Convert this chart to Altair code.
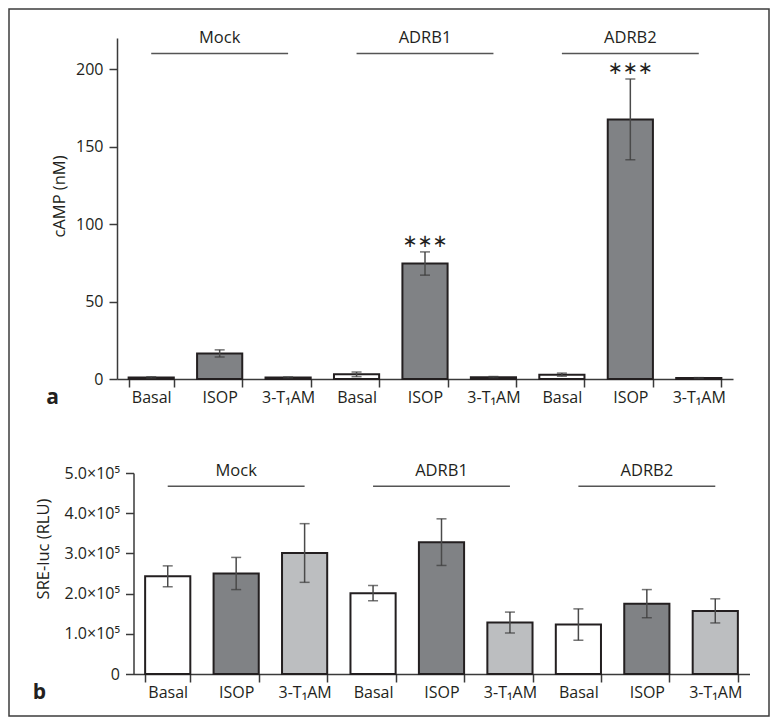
import altair as alt
import pandas as pd

# ---------------- data ----------------
groups = ["Mock", "ADRB1", "ADRB2"]
treatments = ["Basal", "ISOP", "3-T₁AM"]
fill_colors = ["#ffffff", "#808285", "#bcbec0"]

camp_mean = [1.0, 16.5, 1.0, 3.0, 74.5, 1.2, 2.8, 167.5, 0.6]
camp_err = [0.4, 2.3, 0.3, 1.5, 7.5, 0.4, 1.0, 26.0, 0.3]
camp_sig = ["", "", "", "", "∗∗∗", "", "", "∗∗∗", ""]
camp_ticks = [0, 50, 100, 150, 200]
camp_max = 220
camp_bracket_line = 210
camp_bracket_label = 220

sre_mean = [2.43e5, 2.50e5, 3.01e5, 2.01e5, 3.28e5, 1.28e5, 1.23e5, 1.75e5, 1.57e5]
sre_err = [0.26e5, 0.40e5, 0.73e5, 0.19e5, 0.58e5, 0.26e5, 0.39e5, 0.35e5, 0.30e5]
sre_sig = ["", "", "", "", "", "", "", "", ""]
sre_ticks = [0, 100000, 200000, 300000, 400000, 500000]
sre_max = 500000
sre_bracket_line = 467000
sre_bracket_label = 504000

keys = [f"{g}|{t}" for g in groups for t in treatments]

FONT = "Open Sans"
INK = "#231f20"
AXIS = "#3a3a3a"


def bars_df(mean, err, sig):
    return pd.DataFrame({
        "key": keys,
        "treatment": [t for g in groups for t in treatments],
        "mean": mean,
        "lo": [m - e for m, e in zip(mean, err)],
        "hi": [m + e for m, e in zip(mean, err)],
        "sig": sig,
    })


def bracket_df(line_y, label_y):
    return pd.DataFrame({
        "group": groups,
        "start": [f"{g}|{treatments[0]}" for g in groups],
        "mid": [f"{g}|{treatments[1]}" for g in groups],
        "end": [f"{g}|{treatments[2]}" for g in groups],
        "line_y": [line_y] * 3,
        "label_y": [label_y] * 3,
    })


def panel(mean, err, sig, ymax, yticks, ylabel_expr, ytitle, letter,
          line_y, label_y, width, height, xrange, yoffset,
          ytitle_x, ytitle_y, letter_x, extra=None):
    df = bars_df(mean, err, sig)
    br = bracket_df(line_y, label_y)
    xscale = alt.Scale(domain=keys, range=xrange, paddingInner=0.34, paddingOuter=0.17)
    xaxis = alt.Axis(title=letter, labelExpr="split(datum.value, '|')[1]",
                     tickBand="extent", labelAngle=0, labelPadding=2,
                     titleX=letter_x, titleY=18, titleFontSize=21,
                     titleFontWeight="bold", titleAlign="center",
                     titleBaseline="middle")
    yscale = alt.Scale(domain=[0, ymax], nice=False, zero=True)
    yaxis = alt.Axis(title=ytitle, values=yticks, labelExpr=ylabel_expr,
                     offset=yoffset, titleX=ytitle_x, titleY=ytitle_y,
                     titleAlign="center", titleBaseline="middle", grid=False,
                     labelPadding=6)
    x = alt.X("key:N", scale=xscale, axis=xaxis)
    base = alt.Chart(df)
    bars = base.mark_bar(stroke=INK, strokeWidth=2).encode(
        x=x,
        y=alt.Y("mean:Q", scale=yscale, axis=yaxis),
        fill=alt.Fill("treatment:N",
                      scale=alt.Scale(domain=treatments, range=fill_colors),
                      legend=None),
    )
    stems = base.mark_rule(color="#4a4a4a", strokeWidth=1.5).encode(
        x=x, y=alt.Y("lo:Q", scale=yscale, axis=yaxis), y2="hi:Q")
    caps_hi = base.mark_tick(color=AXIS, size=10, thickness=1.5).encode(
        x=x, y=alt.Y("hi:Q", scale=yscale, axis=yaxis))
    caps_lo = base.mark_tick(color=AXIS, size=10, thickness=1.5).encode(
        x=x, y=alt.Y("lo:Q", scale=yscale, axis=yaxis))
    stars = base.mark_text(font="DejaVu Sans", fontSize=18, dy=-10,
                           baseline="middle", color=INK).encode(
        x=x, y=alt.Y("hi:Q", scale=yscale, axis=yaxis), text="sig:N")
    lines = alt.Chart(br).mark_rule(color="#555555", strokeWidth=1.5).encode(
        x=alt.X("start:N", scale=xscale, axis=xaxis, bandPosition=0.5),
        x2=alt.X2("end:N", bandPosition=0.5),
        y=alt.Y("line_y:Q", scale=yscale, axis=yaxis),
    )
    labels = alt.Chart(br).mark_text(fontSize=16.5, baseline="middle",
                                     color=INK, font=FONT).encode(
        x=alt.X("mid:N", scale=xscale, axis=xaxis),
        y=alt.Y("label_y:Q", scale=yscale, axis=yaxis),
        text="group:N",
    )
    layers = [bars, stems, caps_hi, caps_lo, stars, lines, labels]
    if extra is not None:
        layers.append(extra)
    return alt.layer(*layers).properties(width=width, height=height)


# figure frame (decoration around the whole figure)
frame = alt.Chart(pd.DataFrame({"f": [0]})).mark_rect(
    fill="#ffffff", fillOpacity=0, stroke="#3c3c3c", strokeWidth=1.5
).encode(x=alt.value(-108), x2=alt.value(652), y=alt.value(-29), y2=alt.value(678))

top = panel(camp_mean, camp_err, camp_sig, camp_max, camp_ticks,
            "datum.value", "cAMP (nM)", "a",
            camp_bracket_line, camp_bracket_label,
            616, 341, [0, 616], 0, -58, 158, -65, extra=frame)

bottom = panel(sre_mean, sre_err, sre_sig, sre_max, sre_ticks,
               "datum.value == 0 ? '0' : format(datum.value / 100000, '.1f') + '×10⁵'",
               "SRE-luc (RLU)", "b",
               sre_bracket_line, sre_bracket_label,
               633, 201, [16.5, 632.5], -16.5, -90.5, 75.5, -78)

chart = alt.vconcat(top, bottom, spacing=94, bounds="flush").properties(
    padding=0
).configure_axis(
    domainColor=AXIS, domainWidth=1.5, tickColor=AXIS, tickWidth=1.5,
    tickSize=8, labelFont=FONT, labelFontSize=16, labelColor=INK,
    titleFont=FONT, titleFontSize=16.5, titleColor=INK, titleFontWeight="normal",
).configure_view(strokeWidth=0).configure_text(font=FONT)

chart.save("out.html", embed_options={"renderer": "svg", "actions": False})
